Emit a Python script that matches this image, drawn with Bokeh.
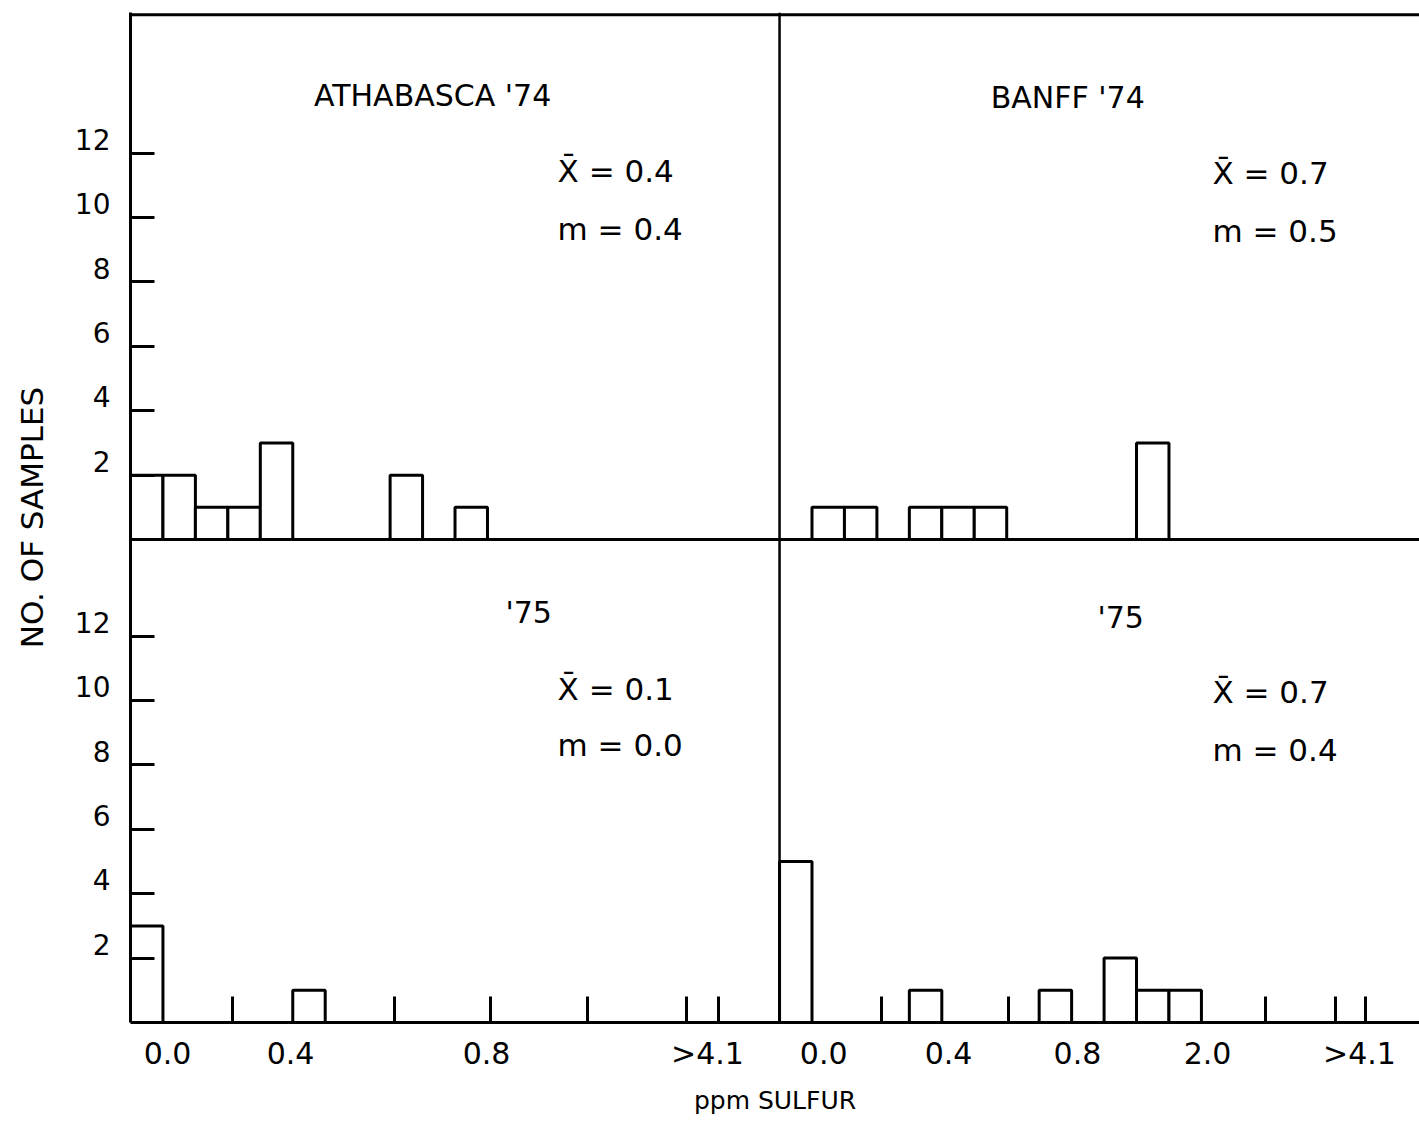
from bokeh.plotting import figure
from bokeh.models import Range1d, FixedTicker, Span, Label, ColumnDataSource
from bokeh.embed import file_html
from bokeh.resources import INLINE

# ---------------- data (counts per bin, 20 bins per panel) ----------------
athabasca_74 = [2, 2, 1, 1, 3, 0, 0, 0, 2, 0, 1, 0, 0, 0, 0, 0, 0, 0, 0, 0]
banff_74     = [0, 1, 1, 0, 1, 1, 1, 0, 0, 0, 0, 3, 0, 0, 0, 0, 0, 0, 0, 0]
athabasca_75 = [3, 0, 0, 0, 0, 1, 0, 0, 0, 0, 0, 0, 0, 0, 0, 0, 0, 0, 0, 0]
banff_75     = [5, 0, 0, 0, 1, 0, 0, 0, 1, 0, 2, 1, 1, 0, 0, 0, 0, 0, 0, 0]

panel_titles = ["ATHABASCA '74", "BANFF '74", "'75", "'75"]
panel_means = ["0.4", "0.7", "0.1", "0.7"]
panel_medians = ["0.4", "0.5", "0.0", "0.4"]

y_tick_values = [2, 4, 6, 8, 10, 12]

x_labels_left = ["0.0", "0.4", "0.8", ">4.1"]
x_label_pos_left = [1.14, 4.93, 10.97, 17.78]
x_ticks_left = [3.14, 8.14, 11.09, 14.08, 17.13, 18.12]

x_labels_right = ["0.0", "0.4", "0.8", "2.0", ">4.1"]
x_label_pos_right = [1.36, 5.21, 9.18, 13.19, 17.87]
x_ticks_right = [3.14, 7.06, 14.98, 17.13, 18.06]

# ---------------- layout constants ----------------
NBINS = 20
X_OFF = {"left": 0, "right": NBINS}
Y_OFF = {"top": 15.0, "bottom": 0.0}
FONT = "DejaVu Sans"

p = figure(frame_width=1289, frame_height=1010, output_backend="svg",
           toolbar_location=None, min_border_left=130, min_border_right=0,
           min_border_top=12, min_border_bottom=122,
           x_range=Range1d(0, 39.72), y_range=Range1d(0, 31.37))
p.outline_line_color = None
p.grid.visible = False
p.background_fill_color = "white"
p.border_fill_color = "white"

# ---------------- bars ----------------
panels = [(athabasca_74, "left", "top"), (banff_74, "right", "top"),
          (athabasca_75, "left", "bottom"), (banff_75, "right", "bottom")]
L, R, B, T = [], [], [], []
for counts, px, py in panels:
    for i, c in enumerate(counts):
        if c > 0:
            L.append(X_OFF[px] + i)
            R.append(X_OFF[px] + i + 1)
            B.append(Y_OFF[py])
            T.append(Y_OFF[py] + c)
src = ColumnDataSource(dict(left=L, right=R, bottom=B, top=T))
p.quad(left="left", right="right", bottom="bottom", top="top", source=src,
       fill_color="white", line_color="black", line_width=3)

# ---------------- frame lines ----------------
p.add_layout(Span(location=31.30, dimension="width", line_color="black", line_width=3))
p.add_layout(Span(location=Y_OFF["top"], dimension="width", line_color="black", line_width=3))
p.add_layout(Span(location=X_OFF["right"], dimension="height", line_color="black", line_width=2.5))

# ---------------- y axis ----------------
LABEL_SHIFT = 0.43
y_minor = [Y_OFF[k] + v for k in ("top", "bottom") for v in y_tick_values]
y_major = [Y_OFF[k] + v + LABEL_SHIFT for k in ("top", "bottom") for v in y_tick_values]
y_over = {}
for k in ("top", "bottom"):
    for v in y_tick_values:
        y_over[Y_OFF[k] + v + LABEL_SHIFT] = str(v)
ya = p.yaxis[0]
ya.ticker = FixedTicker(ticks=y_major, minor_ticks=y_minor)
ya.major_label_overrides = y_over
ya.major_tick_in = 0
ya.major_tick_out = 0
ya.minor_tick_in = 24
ya.minor_tick_out = 0
ya.minor_tick_line_width = 3
ya.minor_tick_line_color = "black"
ya.axis_line_width = 3
ya.axis_line_color = "black"
ya.major_label_standoff = 20
ya.major_label_text_font = FONT
ya.major_label_text_font_size = "28px"
ya.major_label_text_color = "black"
ya.axis_label = "NO. OF SAMPLES"
ya.axis_label_text_font = FONT
ya.axis_label_text_font_size = "31px"
ya.axis_label_text_font_style = "normal"
ya.axis_label_text_color = "black"
ya.axis_label_standoff = 22

# ---------------- x axis ----------------
x_major = [X_OFF["left"] + v for v in x_label_pos_left] + [X_OFF["right"] + v for v in x_label_pos_right]
x_minor = [X_OFF["left"] + v for v in x_ticks_left] + [X_OFF["right"] + v for v in x_ticks_right]
x_over = {}
for v, s in zip(x_label_pos_left, x_labels_left):
    x_over[X_OFF["left"] + v] = s
for v, s in zip(x_label_pos_right, x_labels_right):
    x_over[X_OFF["right"] + v] = s
xa = p.xaxis[0]
xa.ticker = FixedTicker(ticks=x_major, minor_ticks=x_minor)
xa.major_label_overrides = x_over
xa.major_tick_in = 0
xa.major_tick_out = 0
xa.minor_tick_in = 26
xa.minor_tick_out = 0
xa.minor_tick_line_width = 3
xa.minor_tick_line_color = "black"
xa.axis_line_width = 3
xa.axis_line_color = "black"
xa.major_label_standoff = 13
xa.major_label_text_font = FONT
xa.major_label_text_font_size = "30px"
xa.major_label_text_color = "black"
xa.axis_label = "ppm SULFUR"
xa.axis_label_text_font = FONT
xa.axis_label_text_font_size = "25px"
xa.axis_label_text_font_style = "normal"
xa.axis_label_text_color = "black"
xa.axis_label_standoff = 12

# ---------------- panel annotations ----------------
title_pos = [(9.31, 28.79), (28.88, 28.73), (12.27, 12.73), (30.51, 12.58)]
stat_x = [13.16, 33.34, 13.16, 33.34]
mean_y = [26.46, 26.37, 10.37, 10.25]
med_y = [24.66, 24.57, 8.63, 8.45]
for i in range(4):
    p.add_layout(Label(x=title_pos[i][0], y=title_pos[i][1], text=panel_titles[i],
                       text_font=FONT, text_font_size="30px", text_align="center",
                       text_baseline="middle", text_color="black"))
    p.add_layout(Label(x=stat_x[i], y=mean_y[i], text="X\u0304 = " + panel_means[i],
                       text_font=FONT, text_font_size="31px", text_align="left",
                       text_baseline="middle", text_color="black"))
    p.add_layout(Label(x=stat_x[i], y=med_y[i], text="m = " + panel_medians[i],
                       text_font=FONT, text_font_size="31px", text_align="left",
                       text_baseline="middle", text_color="black"))

open("out.html", "w").write(file_html(p, INLINE))
